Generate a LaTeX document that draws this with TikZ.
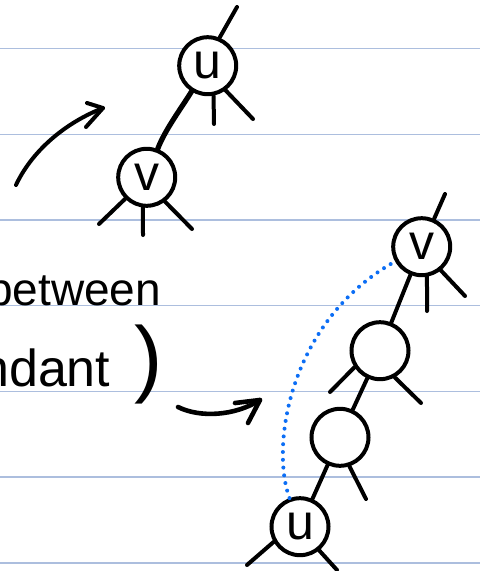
\documentclass[tikz,border=0pt]{standalone}
\usepackage{fontspec}
\setmainfont{Liberation Sans}
\definecolor{rulecol}{RGB}{172,190,222}
\definecolor{dotblue}{RGB}{12,110,245}
\begin{document}
\begin{tikzpicture}[x=1pt,y=-1pt,
  rule/.style={draw=rulecol, line width=1.4pt},
  ink/.style={line width=4pt, line cap=round, line join=round},
  thick ink/.style={line width=5.2pt, line cap=round},
  tnode/.style={circle, draw, fill=white, line width=4pt, minimum size=57pt, inner sep=0pt, font=\fontsize{50}{50}\selectfont},
  hand/.style={inner sep=0pt, anchor=base west},
  dots/.style={draw=dotblue, line width=4pt, line cap=round, dash pattern=on 0pt off 7.8pt}]
\useasboundingbox (0,0) rectangle (480,571);
\clip (0,0) rectangle (480,571);
% ruled paper
\foreach \yy in {48.5,134.2,220,305.7,391.4,477,562.8}
  \draw[rule] (0,\yy) -- (480,\yy);

% text
\node[hand, font=\fontsize{46}{46}\selectfont] (t1) at (-13,305) {between};
\node[hand, font=\fontsize{52}{52}\selectfont] (t2) at (-20,386) {ndant\kern24pt{\fontsize{85}{85}\selectfont)}};

% arrows
\coordinate (a1s) at (16,185);
\coordinate (a1t) at (103,108);
\coordinate (a1b1) at (87,103);
\coordinate (a1b2) at (86,127);
\draw[ink] (a1s) .. controls (30,155) and (60,125) .. (a1t);
\draw[ink] (a1b1) -- (a1t) -- (a1b2);

\coordinate (a2s) at (178,407);
\coordinate (a2t) at (260,400);
\coordinate (a2b1) at (235,403);
\coordinate (a2b2) at (248,423);
\draw[ink, line width=4.6pt] (a2s) .. controls (200,418) and (235,416) .. (a2t);
\draw[ink, line width=4.6pt] (a2b1) -- (a2t) -- (a2b2);

% top tree
\node[tnode] (tu) at (207.7,65.7) {u};
\node[tnode] (tv) at (146.7,177.3) {v};
\draw[thick ink] (tu) .. controls (180,110) and (165,130) .. (tv);
\coordinate (tu1) at (237,7);
\coordinate (tu2) at (214,124);
\coordinate (tu3) at (253,119);
\draw[ink] (tu.67) -- (tu1);
\draw[ink] (tu.-79) -- (tu2);
\draw[ink] (tu.-54) -- (tu3);
\coordinate (tv1) at (99,224);
\coordinate (tv2) at (143,235);
\coordinate (tv3) at (192,229);
\draw[ink] (tv.-135) -- (tv1);
\draw[ink] (tv.-97) -- (tv2);
\draw[ink] (tv.-53) -- (tv3);

% bottom chain
\node[tnode] (bv) at (421.7,246.7) {v};
\node[tnode] (bn2) at (380,350.7) {};
\node[tnode] (bn3) at (340,437.3) {};
\node[tnode] (bu) at (300,526.7) {u};
\draw[ink] (bv) -- (bn2);
\draw[ink] (bn2) -- (bn3);
\draw[ink] (bn3) -- (bu);
\coordinate (bv1) at (445,194);
\coordinate (bv2) at (427,311);
\coordinate (bv3) at (465,296);
\draw[ink] (bv.66) -- (bv1);
\draw[ink] (bv.-80) -- (bv2);
\draw[ink] (bv.-51) -- (bv3);
\coordinate (bn2a) at (330,392);
\coordinate (bn2b) at (421,403);
\draw[ink] (bn2.-147) -- (bn2a);
\draw[ink] (bn2.-61) -- (bn2b);
\coordinate (bn3b) at (366,499);
\draw[ink] (bn3.-72) -- (bn3b);
\coordinate (bua) at (247,565);
\coordinate (bub) at (337,570);
\draw[ink] (bu.-150) -- (bua);
\draw[ink] (bu.-51) -- (bub);

% dotted path
\draw[dots] (bu) .. controls (270,445) and (290,320) .. (bv);
\end{tikzpicture}
\end{document}
